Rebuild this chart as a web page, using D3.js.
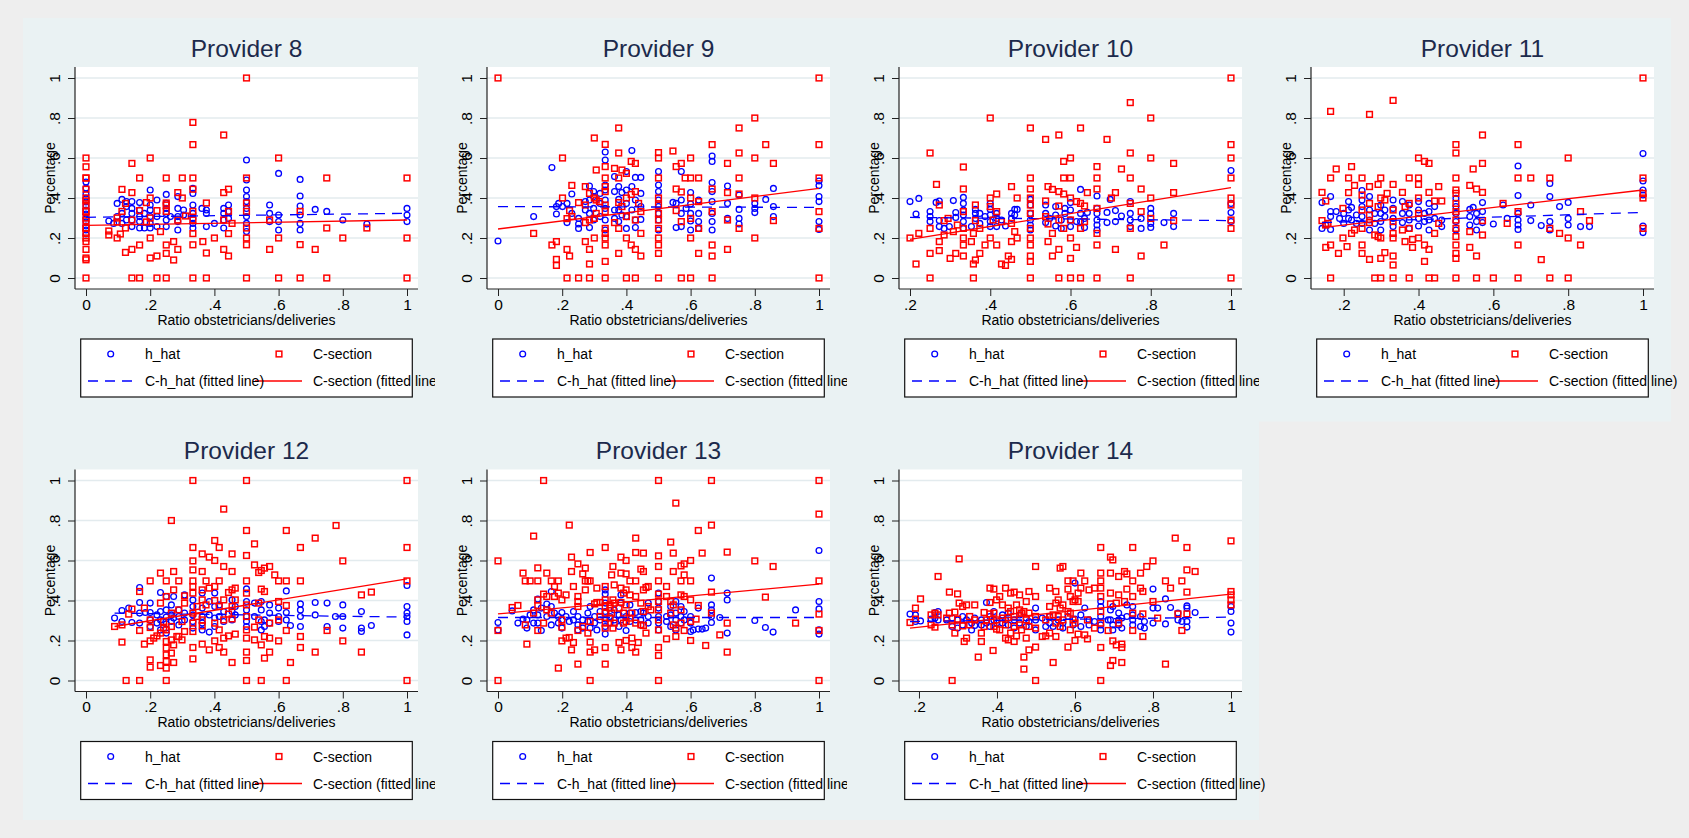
<!DOCTYPE html>
<html><head><meta charset="utf-8">
<script src="https://cdn.jsdelivr.net/npm/d3@7"></script>
<style>
html,body{margin:0;padding:0;background:#eeeeee;}
svg{display:block;font-family:Arial,"Liberation Sans",Helvetica,sans-serif;}
</style></head><body>
<svg id="chart" width="1689" height="838"></svg>
<script>
// Each series is grouped by x value: [ratio, [percentages at that ratio]]
const providers = [8, 9, 10, 11, 12, 13, 14];

const ticksFrom0 = [0, .2, .4, .6, .8, 1];
const ticksFrom2 = [.2, .4, .6, .8, 1];
const yTicks = [0, .2, .4, .6, .8, 1];
const yTickLabels = ["0", ".2", ".4", ".6", ".8", "1"];
const xTicksByPanel = [ticksFrom0, ticksFrom0, ticksFrom2, ticksFrom2, ticksFrom0, ticksFrom0, ticksFrom2];

const cs8 = [[0,[.6,.556,.5,.5,.444,.4,.385,.364,.333,.333,.3,.286,.25,.25,.222,.2,.182,.143,.1,.091,0]],
[.071,[.215,.235]],[.097,[.2,.28,.3]],[.107,[.22]],[.112,[.443,.333]],[.123,[.373,.25,.128]],
[.143,[.573,.427,.29,.143,0]],[.167,[.5,.337,.165,0]],[.188,[.377,.28]],[.2,[.6,.4,.3,.2,.1]],
[.221,[.337,.11,0]],[.232,[.232]],[.25,[.5,.375,.365,.333,.165,.123,0]],[.273,[.182,.09]],
[.286,[.427,.29,.143]],[.3,[.5,.4]],[.31,[.31]],[.333,[.778,.667,.5,.444,.333,.29,.222,.166,0]],
[.364,[.182]],[.375,[.375,.125,0]],[.4,[.2]],[.429,[.715,.427,.29,.143]],[.444,[.444,.333,.222,.11]],
[.455,[.273]],[.5,[1,.5,.375,.333,.25,.2,.166,0]],[.572,[.29,.143]],[.6,[.6,.2,0]],[.667,[.333,.167,0]],
[.714,[.143]],[.75,[.5,.25,0]],[.8,[.2]],[.875,[.25]],[1,[.5,.2,0]]];

const hhat8 = [[0,[.48,.45,.42,.4,.38,.36,.34,.32,.3,.28,.26,.24,.22]],
[.071,[.285]],[.086,[.273]],[.097,[.373,.307]],[.112,[.393,.323,.273]],[.126,[.382,.357,.29]],
[.143,[.382,.348,.323,.29,.257]],[.167,[.377,.34,.307,.282,.25]],[.182,[.323,.25]],
[.2,[.44,.365,.34,.307,.273,.25]],[.221,[.39,.307,.257]],[.25,[.418,.373,.348,.323,.29,.257]],
[.263,[.307]],[.286,[.407,.348,.307,.282,.24]],[.304,[.34,.315]],[.333,[.448,.423,.365,.323,.298,.273,.25]],
[.361,[.348]],[.375,[.34,.323,.257]],[.4,[.273]],[.429,[.348,.323,.29,.25]],[.444,[.365,.333,.298]],
[.5,[.59,.49,.44,.407,.382,.348,.307,.273,.232]],[.572,[.365,.323,.282]],[.6,[.523,.315,.282,.24]],
[.667,[.493,.41,.36,.315,.273,.24]],[.714,[.343]],[.75,[.333]],[.8,[.29]],[.875,[.27]],[1,[.348,.315,.282]]];

const cs9 = [[0,[1]],[.111,[.223]],[.168,[.165]],[.182,[.182,.093,.063]],[.201,[.6,.4]],[.215,[.297,.143,0]],
[.223,[.337,.11]],[.23,[.463,.307]],[.251,[.377,0]],[.272,[.457,.365,.277,.182]],[.285,[.423,.29,.143,.07,0]],
[.3,[.7,.4,.298,.2]],[.306,[.54,.39,.323]],[.316,[.382]],
[.334,[.668,.557,.5,.457,.432,.365,.332,.248,.223,.2,.165,.083,0]],[.363,[.548,.277]],
[.376,[.75,.625,.5,.377,.248,.123]],[.386,[.54,.357]],[.4,[.523,.4,.307,.2,0]],[.415,[.583,.418,.165]],
[.428,[.573,.432,.29,.143,0]],[.438,[.373]],[.445,[.332,.223,.11]],
[.5,[.627,.6,.5,.4,.365,.323,.29,.248,.2,.165,.123,0]],[.545,[.635]],[.555,[.557,.445,.337]],
[.571,[.573,.43,.282,0]],[.583,[.5]],[.6,[.6,.5,.4,.298,.2,0]],[.625,[.5,.382,.248,.123]],
[.667,[.667,.445,.332,.165,.11,0]],[.715,[.573,.427,.29,.143]],[.751,[.75,.625,.5,.42,.248]],
[.8,[.8,.6,.4,.2]],[.834,[.667]],[.858,[.573,.287]],[1,[1,.667,.5,.332,.248,0]]];

const hhat9 = [[0,[.185]],[.111,[.307]],[.168,[.552]],[.182,[.357,.32]],[.189,[.373]],[.201,[.357]],
[.215,[.373,.277]],[.23,[.42,.323]],[.251,[.298,.248,.27]],[.272,[.382,.34]],[.285,[.46,.39,.323,.252]],
[.298,[.432,.407,.348,.29]],[.318,[.423,.373,.307]],[.334,[.63,.59,.465,.44,.39,.348,.29,.24]],
[.363,[.507,.432,.34,.298]],[.376,[.457,.393,.34,.282]],[.386,[.427,.315]],[.4,[.532,.44,.373,.307,.248]],
[.417,[.637,.457,.34]],[.428,[.503,.39,.29,.252]],[.445,[.503,.423,.357,.293]],
[.5,[.532,.465,.432,.39,.357,.323,.29,.24]],[.545,[.378]],[.555,[.252,.373]],[.571,[.532,.39,.323,.257]],
[.586,[.348]],[.6,[.427,.37,.323,.285,.24]],[.625,[.39,.323,.282,.248]],
[.667,[.61,.583,.477,.432,.382,.323,.282,.24]],[.715,[.46,.373,.298]],[.751,[.415,.343,.298,.27]],
[.8,[.373,.348,.327]],[.834,[.393]],[.858,[.448,.357,.307]],[1,[.485,.462,.407,.382,.282,.243]]];

const cs10 = [[.2,[.2]],[.215,[.07]],[.222,[.223]],[.25,[.625,.248,.123,0]],[.266,[.468]],[.273,[.365,.182,.137]],
[.285,[.215,.287]],[.295,[.298]],[.3,[.098]],[.308,[.232]],[.314,[.123]],[.318,[.265]],
[.333,[.555,.445,.332,.248,.2,.165,.11]],[.353,[.182]],[.358,[.07,0,.223]],[.363,[.365,.287,.09]],
[.374,[.248,.123]],[.387,[.165]],[.4,[.8,.4,.2,.357]],[.407,[.29]],[.416,[.42,.332,.165]],[.428,[.282,.07]],
[.438,[.063]],[.445,[.11]],[.453,[.457,.273,.182,.093]],[.461,[.232]],[.467,[.4,.2]],
[.5,[.75,.5,.445,.4,.365,.323,.248,.2,.165,.11,.083,0]],[.538,[.693,.385,.307]],[.544,[.457,.27,.182]],
[.555,[.443,.223,.11]],[.571,[.715,.432,.36,.29,.143,0]],[.583,[.583,.5,.42,.248]],
[.6,[.6,.5,.4,.29,.2,.098,0]],[.615,[.382,.153]],[.625,[.75,.373,.248,0]],[.635,[.36,.282]],[.642,[.427]],
[.666,[.557,.5,.445,.348,.223,.165,0]],[.691,[.693]],[.702,[.4]],[.712,[.427,.143]],[.727,[.545]],
[.749,[.877,.625,.5,.373,.248,0]],[.776,[.445,.332,.11]],[.8,[.8,.6,.4,.298]],[.833,[.165]],
[.857,[.573,.427,.287]],[1,[1,.667,.6,.5,.4,.365,.29,.248,0]]];

const hhat10 = [[.2,[.382]],[.215,[.32]],[.222,[.398]],[.25,[.332,.307,.282]],[.265,[.378]],[.273,[.385,.287,.257]],
[.285,[.248]],[.298,[.257]],[.308,[.387]],[.314,[.327,.303]],[.333,[.403,.373,.34,.315,.282,.248]],
[.353,[.257]],[.363,[.343,.323,.298]],[.374,[.323,.273]],[.387,[.307]],[.4,[.373,.343,.315,.282,.257]],
[.416,[.323,.298,.257]],[.428,[.29]],[.438,[.26]],[.453,[.323,.298]],[.461,[.315,.343]],[.467,[.343]],
[.5,[.393,.365,.323,.29,.265,.24]],[.538,[.365,.323,.277]],[.548,[.298]],[.563,[.26,.357,.315]],
[.577,[.29,.248]],[.586,[.323,.348]],[.6,[.377,.34,.29,.257]],[.615,[.282]],[.625,[.443,.323,.282]],
[.635,[.252,.298]],[.642,[.328]],[.666,[.41,.348,.323,.29,.265,.24]],[.691,[.328,.277]],[.699,[.393]],
[.712,[.337,.282]],[.727,[.31]],[.749,[.382,.323,.29,.257]],[.776,[.298,.248]],[.8,[.348,.323,.273,.253]],
[.833,[.277]],[.857,[.323,.257]],[1,[.537,.373,.327,.282]]];

const cs11 = [[.142,[.428,.287]],[.152,[.385,.153,.265]],[.158,[.273]],[.165,[.833,.5,.165,0]],[.18,[.545]],
[.186,[.123]],[.198,[.348,.2]],[.209,[.157]],[.213,[.5,.427]],[.221,[.557,.223]],[.229,[.463,.24]],
[.249,[.5,.415,.34,.248,.165,.123]],[.269,[.818,.457,.373,.315,.277,.093]],[.283,[.215,0]],
[.292,[.468,.357,.207]],[.299,[.5,.4,.2,.098,0]],[.31,[.39,.127]],[.316,[.423]],
[.332,[.888,.468,.34,.282,.223,.2,.11,.065,0]],[.357,[.428,.24]],[.364,[.357,.182]],[.375,[.5,.373,.248,0]],
[.384,[.153,.193]],[.4,[.6,.5,.468,.4,.323,.2]],[.416,[.583,.165,.083]],[.428,[.573,.428,.143,0]],
[.443,[.385,.223,0]],[.454,[.457,.273]],[.462,[.385]],
[.5,[.667,.625,.5,.44,.423,.373,.332,.29,.248,.207,.165,.123,.098,0]],[.537,[.463,.232,.153]],[.546,[.545]],
[.555,[.445,.11,0]],[.571,[.715,.573,.428,.287,.215]],[.6,[0]],[.626,[.373]],[.637,[.273]],
[.666,[.667,.5,.332,.165,0]],[.7,[.5]],[.728,[.092]],[.751,[.5,.248,0]],[.777,[.223]],[.8,[.6,.2,0]],
[.833,[.332,.165]],[.857,[.287]],[1,[1,.5,.423,.4,.248]]];

const hhat11 = [[.142,[.377,.248]],[.152,[.265]],[.165,[.407,.332,.307,.243]],[.18,[.332]],[.189,[.298]],
[.2,[.323,.273]],[.213,[.382,.34,.298]],[.221,[.353,.29]],[.234,[.315,.273]],[.249,[.437,.39,.357,.307,.273]],
[.269,[.407,.34,.29,.24]],[.283,[.323,.273]],[.299,[.365,.323,.282,.24]],[.31,[.34,.307]],
[.332,[.39,.348,.298,.257]],[.357,[.382,.323,.277]],[.375,[.365,.323,.29,.248]],[.4,[.382,.34,.298,.26]],
[.416,[.323,.282]],[.428,[.373,.332,.29,.24]],[.443,[.357,.298]],[.462,[.29,.257]],
[.5,[.398,.357,.323,.282,.24]],[.537,[.343,.307,.265]],[.546,[.353]],[.555,[.323,.282,.24]],
[.571,[.377,.332,.277]],[.6,[.27]],[.626,[.365]],[.637,[.298]],[.666,[.56,.412,.323,.29,.265,.243]],
[.7,[.365,.287]],[.728,[.262]],[.751,[.473,.407,.282,.24]],[.777,[.357]],[.8,[.378,.298,.265]],
[.833,[.257]],[.857,[.257]],[1,[.622,.485,.44,.415,.26,.227]]];

const cs12 = [[.089,[.27]],[.112,[.278,.192]],[.125,[0]],[.133,[.332]],[.143,[.357]],[.167,[.445,.25,0]],
[.182,[.362,.182]],[.2,[.498,.303,.265,.198,.103,.067]],[.211,[.212]],[.221,[.223]],[.232,[.537,.387,.237,.075]],
[.242,[.295,.262]],[.25,[.498,.42,.253,.195,.162,.128,.095,.062,0]],[.266,[.8,.337,.27,.203,.137]],
[.273,[.545,.453,.178,.09]],[.283,[.22]],[.289,[.498,.353,.22]],[.299,[.295,.203]],[.307,[.423,.387,.245]],
[.333,[1,.665,.598,.553,.498,.47,.437,.337,.287,.245,.165,.108]],[.346,[.37,.32]],
[.362,[.633,.545,.453,.403,.303,.273,.182]],[.374,[.498,.378]],[.384,[.617,.462,.153]],
[.401,[.7,.6,.47,.4,.287,.198]],[.415,[.665,.498,.37,.253,.165]],[.429,[.857,.57,.403,.303,.212,.142]],
[.444,[.44,.332,.223]],[.455,[.633,.545,.453,.37,.308,.09]],[.465,[.462,.403,.232]],
[.5,[1,.75,.625,.498,.437,.378,.32,.253,.212,.142,.1,0]],[.525,[.683,.578,.267,.203]],[.538,[.54,.387,.303]],
[.546,[.55,.457,.178,0]],[.556,[.562,.445,.22,.112]],[.572,[.57,.287,.142,.212]],[.588,[.528]],
[.6,[.498,.395,.303,.198]],[.624,[.75,.498,.375,.25,0]],[.637,[.09]],[.668,[.665,.498,.22,.165]],
[.714,[.712,.142]],[.751,[.25]],[.779,[.775]],[.8,[.598,.198]],[.858,[.428,.142]],[.889,[.442]],
[1,[1,.665,.498,0]]];

const hhat12 = [[.089,[.312]],[.112,[.35,.295]],[.133,[.362]],[.143,[.29]],[.167,[.465,.39,.337,.287]],[.185,[.34]],
[.2,[.387,.34,.303,.27]],[.221,[.328,.287]],[.232,[.44,.345,.303,.253]],[.25,[.42,.353,.317,.283,.237]],
[.266,[.378,.328,.295]],[.273,[.42,.312]],[.289,[.353,.32,.278]],[.307,[.428,.337,.303]],
[.333,[.403,.37,.328,.295,.262]],[.362,[.437,.362,.32,.287,.253]],[.384,[.395,.328,.242]],
[.401,[.437,.37,.312,.27]],[.415,[.378,.32]],[.429,[.345,.295]],[.455,[.403,.345,.303]],[.465,[.37,.328]],
[.5,[.458,.395,.353,.32,.295,.27]],[.525,[.387,.32]],[.546,[.395,.353,.295,.253]],[.556,[.303,.27]],
[.572,[.378,.337,.287]],[.6,[.362,.32,.295]],[.624,[.448,.34,.303]],[.637,[.275]],[.668,[.383,.353,.32,.27]],
[.714,[.39,.328]],[.751,[.387,.27]],[.777,[.32]],[.8,[.378,.32,.262]],[.858,[.345,.262,.245]],[.889,[.275]],
[1,[.475,.37,.337,.32,.295,.228]]];

const cs13 = [[0,[.598,.25,0]],[.044,[.365]],[.062,[.375]],[.078,[.537]],[.085,[.498,.278]],[.09,[.182]],[.1,[.498]],
[.111,[.722,.337]],[.124,[.563,.498,.403,.375,.25]],[.142,[1,.432,.287]],[.152,[.537,.42,.353]],[.166,[.498,.337]],
[.176,[.47,.42]],[.188,[.498,.437,.062]],[.199,[.403,.303,.198,.267]],[.212,[.428,.212]],[.222,[.777,.215]],
[.229,[.617,.545,.153]],[.235,[.47,.19]],[.249,[.583,.42,.395,.37,.25,.082]],[.264,[.533,.27]],
[.272,[.453,.498,.562]],[.28,[.498,.237]],[.287,[.64,.498,.295,.192,.142,0]],[.301,[.383,.153]],
[.308,[.462,.39]],[.318,[.39,.32]],[.334,[.665,.47,.403,.37,.337,.287,.262,.165,.082]],[.349,[.378,.362,.312]],
[.354,[.528,.337]],[.358,[.57,.403,.262]],[.362,[.478,.387,.287]],[.377,[.19,.362]],
[.383,[.617,.537,.462,.39,.153]],[.391,[.437,.337,.287]],[.399,[.6,.533,.453,.378,.295,.2]],
[.411,[.498,.428,.312]],[.417,[.337,.165,.212]],[.429,[.712,.64,.498,.42,.287,.142]],[.437,[.19]],
[.445,[.557,.387,.278]],[.453,[.637,.545,.453,.345,.275]],[.461,[.465,.237]],[.468,[.47,.37]],[.476,[.353]],
[.5,[1,.623,.57,.498,.432,.395,.353,.303,.253,.165,.125,0]],[.525,[.47,.42,.208]],[.538,[.692,.395,.337]],
[.546,[.637,.545,.378,.278]],[.554,[.887,.22,.262]],[.57,[.573,.498,.428,.353,.287]],[.58,[.583,.528,.42,.25]],
[.6,[.6,.498,.403,.295,.2]],[.617,[.307]],[.624,[.75,.375]],[.636,[.637]],[.647,[.175]],[.665,[1,.777,.442,.337]],
[.691,[.228]],[.714,[.642,.287,.142]],[.8,[.598]],[.833,[.417]],[.857,[.57]],[.927,[.287]],
[1,[1,.832,.498,.332,.25,0]]];

const hhat13 = [[0,[.29,.253]],[.044,[.348]],[.062,[.287]],[.078,[.307]],[.09,[.303,.262]],[.1,[.328]],
[.111,[.353,.287]],[.124,[.407,.328,.287]],[.135,[.25,.362]],[.152,[.382,.32]],[.166,[.445,.37,.278]],
[.176,[.337]],[.188,[.32,.287]],[.199,[.34,.303,.262]],[.212,[.32]],[.222,[.295]],[.235,[.345,.303]],
[.249,[.32,.278,.253]],[.264,[.303,.262]],[.28,[.337,.295]],[.287,[.37,.262]],[.301,[.32,.287]],[.308,[.253]],
[.318,[.303,.345]],[.334,[.453,.433,.387,.345,.307,.27,.232]],[.349,[.32,.287]],[.362,[.353,.303]],
[.377,[.328,.27]],[.383,[.428,.387,.303]],[.399,[.32,.25]],[.411,[.378,.337,.295]],[.429,[.34,.303]],
[.445,[.345,.303,.278]],[.453,[.337]],[.468,[.387,.32,.287]],[.5,[.437,.395,.362,.32,.287,.253]],
[.525,[.32,.295]],[.538,[.37,.328,.27]],[.554,[.395,.337,.303,.253]],[.57,[.37,.32,.287]],[.58,[.345,.303]],
[.6,[.32,.287,.245]],[.608,[.253]],[.624,[.362,.257]],[.636,[.257]],[.647,[.262]],[.665,[.512,.378,.353,.32,.29]],
[.691,[.315]],[.714,[.437,.403,.237]],[.8,[.3]],[.833,[.265]],[.857,[.242]],[.927,[.353]],
[1,[.65,.395,.358,.253,.232]]];

const cs14 = [[.177,[.29]],[.191,[.362,.307]],[.204,[.408]],[.231,[.328,.278]],[.241,[.337,.267]],[.249,[.52,.328]],
[.271,[.312]],[.278,[.442,.337]],[.285,[0,.278]],[.292,[.342,.237]],[.299,[.433,.307]],[.303,[.608,.387]],
[.312,[.37,.273]],[.316,[.195]],[.322,[.378,.212]],[.33,[.32,.278]],[.343,[.378,.303]],[.352,[.117]],
[.36,[.195,.237]],[.367,[.34,.27]],[.373,[.303]],[.382,[.462,.39,.333]],[.39,[.15]],[.392,[.457,.337,.27]],
[.399,[.403,.303,.257]],[.407,[.42,.253]],[.414,[.378,.312]],[.422,[.462,.278,.212]],[.429,[.362,.315,.203]],
[.435,[.437,.345,.237]],[.444,[.442,.32,.27,.195]],[.45,[.378,.223]],[.458,[.428,.353,.278]],[.463,[.337,.253]],
[.469,[.117,.057,.345]],[.475,[.395,.303,.212]],[.482,[.445,.337,.153,.27]],[.499,[.57,.42,.32,.262,.167,0]],
[.516,[.22]],[.525,[.223,.303]],[.535,[.462,.37,.32,.237]],[.544,[.09,.328]],[.551,[.445,.387,.287,.22]],
[.557,[.403,.32]],[.562,[.562,.362,.27]],[.569,[.57,.378,.303]],[.582,[.498,.457,.167,.345]],
[.588,[.42,.337,.253]],[.595,[.498,.395,.303]],[.6,[.403,.2,.287]],[.608,[.437,.395,.232]],[.615,[.537,.462]],
[.625,[.498,.228]],[.632,[.208,.303]],[.636,[.453]],[.65,[.462,.262]],
[.666,[.665,.537,.498,.462,.42,.345,.287,.165,0]],[.685,[.25]],[.691,[.617,.537,.437,.383,.075]],
[.697,[.603,.198,.1]],[.706,[.178,.387]],[.712,[.52,.428,.287]],[.72,[.165,.09,.182]],[.727,[.545,.395]],
[.733,[.533,.457]],[.748,[.665,.498,.42,.337,.25]],[.768,[.537,.462]],[.774,[.445,.333,.22]],[.784,[.57]],
[.8,[.598,.395]],[.812,[.312]],[.832,[.498,.082]],[.845,[.462]],[.857,[.712]],[.864,[.333]],[.874,[.498,.25]],
[.887,[.665,.553,.442,.333]],[.908,[.545]],[1,[.698,.445,.428,.403,.378]]];

const hhat14 = [[.177,[.332]],[.191,[.328,.295]],[.204,[.298]],[.231,[.307]],[.241,[.34,.312]],[.249,[.345,.303]],
[.271,[.303]],[.285,[.312,.27]],[.299,[.303,.262]],[.312,[.32,.278]],[.322,[.303]],[.335,[.253,.287]],
[.343,[.312,.275]],[.36,[.303,.278]],[.373,[.39,.287]],[.382,[.32,.27]],[.392,[.345,.303]],[.399,[.287]],
[.414,[.328,.287]],[.422,[.303]],[.429,[.337,.278]],[.444,[.303,.262]],[.458,[.328,.287]],[.475,[.312,.27]],
[.482,[.295]],[.499,[.362,.303,.253]],[.516,[.312]],[.525,[.27]],[.535,[.32,.287]],[.544,[.27]],[.557,[.303]],
[.569,[.287,.262]],[.582,[.32]],[.595,[.278]],[.6,[.487,.307]],[.615,[.328,.27]],[.625,[.362]],
[.636,[.303,.278]],[.65,[.295]],[.666,[.395,.37,.32,.278,.253]],[.685,[.303]],[.691,[.353,.303]],
[.697,[.37,.278,.253]],[.712,[.337,.303,.278]],[.72,[.312,.262]],[.733,[.378,.32]],[.748,[.37,.328,.303,.278]],
[.768,[.32,.27]],[.778,[.295,.262]],[.8,[.457,.362,.287]],[.812,[.362]],[.832,[.408,.283]],[.845,[.365]],
[.864,[.337,.303]],[.874,[.295]],[.887,[.373,.362,.295,.267]],[.908,[.34]],[1,[.37,.345,.287,.242]]];

// Linear fits as [x0, y0, x1, y1]
const fitHhat = [[0,.3035,1,.3235],[0,.357,1,.353],[.2,.303,1,.287],[.142,.277,1,.328],
                 [.089,.337,1,.317],[0,.315,1,.315],[.177,.295,1,.317]];
const fitCs   = [[0,.263,1,.29],[0,.245,1,.448],[.2,.193,1,.452],[.142,.252,1,.44],
                 [.089,.27,1,.508],[0,.333,1,.482],[.177,.262,1,.432]];

const csData = [cs8, cs9, cs10, cs11, cs12, cs13, cs14];
const hhatData = [hhat8, hhat9, hhat10, hhat11, hhat12, hhat13, hhat14];

const legendLabels = ["h_hat", "C-section", "C-h_hat (fitted line)", "C-section (fitted line)"];
const xTitle = "Ratio obstetricians/deliveries";
const yTitle = "Percentage";

const BLUE = "#0000ff", RED = "#ff0000", NAVY = "#1c2a4c";
const FONT = "Arial, 'Liberation Sans', sans-serif";
const CELL_W = 412, CELL_H = 402.5, ORIGIN_X = 23, ORIGIN_Y = 18;
const PLOT = {l: 52, r: 395, t: 49, b: 271};
const PAD = 11;
const TICK_FS = 15.5;

const flatten = arr => arr.flatMap(([x, ys]) => ys.map(y => ({x, y})));
const svg = d3.select("#chart");

providers.forEach((p, i) => {
  const col = i % 4, row = Math.floor(i / 4);
  const g = svg.append("g")
    .attr("transform", `translate(${ORIGIN_X + col * CELL_W},${ORIGIN_Y + row * CELL_H})`);

  // panel background (also covers overflow of the previous panel's legend)
  g.append("rect").attr("width", CELL_W).attr("height", row === 0 ? CELL_H + 1 : 399.5).attr("fill", "#eaf2f3");

  const cs = flatten(csData[i]);
  const hh = flatten(hhatData[i]);
  const ticks = xTicksByPanel[i];
  const xExt = d3.extent([...cs.map(d => d.x), ...hh.map(d => d.x), ...ticks]);
  const x = d3.scaleLinear().domain(xExt).range([PLOT.l + PAD, PLOT.r - PAD]);
  const y = d3.scaleLinear().domain([0, 1]).range([PLOT.b - PAD, PLOT.t + PAD]);

  // plot region
  g.append("rect").attr("x", PLOT.l).attr("y", PLOT.t)
    .attr("width", PLOT.r - PLOT.l).attr("height", PLOT.b - PLOT.t).attr("fill", "#ffffff");
  g.append("g").selectAll("line").data(yTicks).join("line")
    .attr("x1", PLOT.l).attr("x2", PLOT.r).attr("y1", d => y(d)).attr("y2", d => y(d))
    .attr("stroke", "#e3ebee").attr("stroke-width", 1.6);

  // y axis
  const yAxis = d3.axisLeft(y).tickValues(yTicks).tickFormat((d, k) => yTickLabels[k]).tickSize(7).tickSizeOuter(0);
  const ya = g.append("g").attr("transform", `translate(${PLOT.l},0)`).call(yAxis);
  ya.select(".domain").remove();
  ya.selectAll(".tick line").attr("stroke", "#222");
  ya.selectAll(".tick text").attr("x", null).attr("dy", null)
    .attr("transform", "translate(-15,0) rotate(-90)").attr("text-anchor", "middle")
    .attr("font-size", TICK_FS).attr("font-family", FONT).attr("fill", "#000");

  // x axis
  const xAxis = d3.axisBottom(x).tickValues(ticks)
    .tickFormat(d => d === 0 ? "0" : d === 1 ? "1" : String(d).replace("0.", "."))
    .tickSize(7).tickPadding(2.5).tickSizeOuter(0);
  const xa = g.append("g").attr("transform", `translate(0,${PLOT.b})`).call(xAxis);
  xa.select(".domain").remove();
  xa.selectAll(".tick line").attr("stroke", "#222");
  xa.selectAll(".tick text").attr("font-size", TICK_FS).attr("font-family", FONT).attr("fill", "#000");

  g.append("line").attr("x1", PLOT.l).attr("x2", PLOT.l).attr("y1", PLOT.t).attr("y2", PLOT.b)
    .attr("stroke", "#222").attr("stroke-width", 1.2);
  g.append("line").attr("x1", PLOT.l).attr("x2", PLOT.r).attr("y1", PLOT.b).attr("y2", PLOT.b)
    .attr("stroke", "#222").attr("stroke-width", 1.2);

  // axis titles
  g.append("text").attr("x", (PLOT.l + PLOT.r) / 2).attr("y", 306.5).attr("text-anchor", "middle")
    .attr("font-size", 14).text(xTitle);
  g.append("text").attr("transform", `translate(32,${(PLOT.t + PLOT.b) / 2}) rotate(-90)`)
    .attr("text-anchor", "middle").attr("font-size", 14).text(yTitle);

  // markers
  g.append("g").selectAll("circle").data(hh).join("circle")
    .attr("cx", d => x(d.x)).attr("cy", d => y(d.y)).attr("r", 2.9)
    .attr("fill", "none").attr("stroke", BLUE).attr("stroke-width", 1.3);
  const s = 5.7;
  g.append("g").selectAll("rect").data(cs).join("rect")
    .attr("x", d => x(d.x) - s / 2).attr("y", d => y(d.y) - s / 2).attr("width", s).attr("height", s)
    .attr("fill", "none").attr("stroke", RED).attr("stroke-width", 1.5);

  // fitted lines
  const fh = fitHhat[i], fc = fitCs[i];
  g.append("line").attr("x1", x(fh[0])).attr("y1", y(fh[1])).attr("x2", x(fh[2])).attr("y2", y(fh[3]))
    .attr("stroke", BLUE).attr("stroke-width", 1.3).attr("stroke-dasharray", "10,7");
  g.append("line").attr("x1", x(fc[0])).attr("y1", y(fc[1])).attr("x2", x(fc[2])).attr("y2", y(fc[3]))
    .attr("stroke", RED).attr("stroke-width", 1.3);

  // title
  g.append("text").attr("x", (PLOT.l + PLOT.r) / 2).attr("y", 38.7).attr("text-anchor", "middle")
    .attr("font-size", 24.5).attr("fill", NAVY).text(`Provider ${p}`);

  // legend
  const lg = g.append("g");
  lg.append("rect").attr("x", 57.7).attr("y", 321).attr("width", 331.6).attr("height", 58)
    .attr("fill", "#fff").attr("stroke", "#111").attr("stroke-width", 1.2);
  const r1 = 336, r2 = 363;
  lg.append("circle").attr("cx", 87.7).attr("cy", r1).attr("r", 2.9)
    .attr("fill", "none").attr("stroke", BLUE).attr("stroke-width", 1.3);
  lg.append("rect").attr("x", 256 - s / 2).attr("y", r1 - s / 2).attr("width", s).attr("height", s)
    .attr("fill", "none").attr("stroke", RED).attr("stroke-width", 1.5);
  lg.append("line").attr("x1", 65).attr("x2", 110).attr("y1", r2).attr("y2", r2)
    .attr("stroke", BLUE).attr("stroke-width", 1.3).attr("stroke-dasharray", "10,7");
  lg.append("line").attr("x1", 232).attr("x2", 279).attr("y1", r2).attr("y2", r2)
    .attr("stroke", RED).attr("stroke-width", 1.3);
  const lt = [[122, r1, 0], [290, r1, 1], [122, r2, 2], [290, r2, 3]];
  lt.forEach(([lx, ly, k]) => {
    lg.append("text").attr("x", lx).attr("y", ly + 5).attr("font-size", 14).attr("fill", "#000").text(legendLabels[k]);
  });
});
</script>
</body></html>
